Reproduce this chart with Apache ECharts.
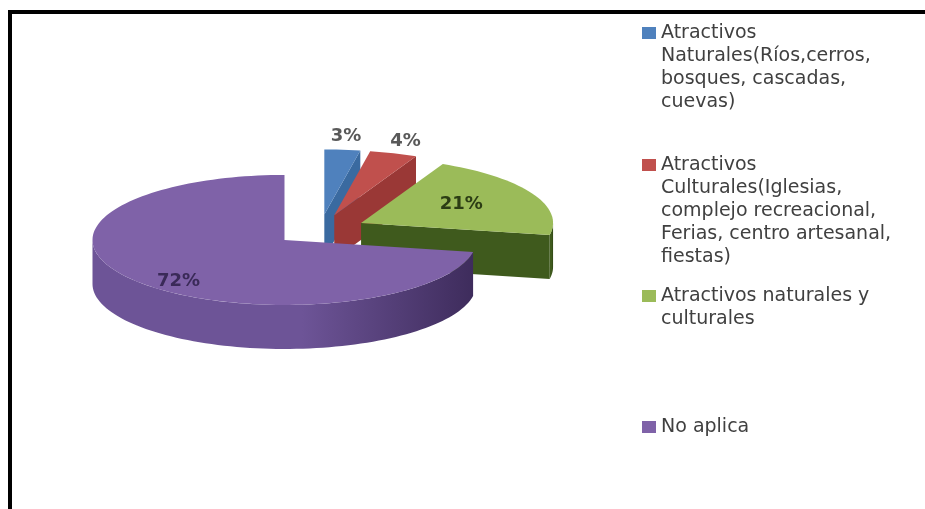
<!DOCTYPE html>
<html>
<head>
<meta charset="utf-8">
<script src="https://cdn.jsdelivr.net/npm/echarts@6/dist/echarts.min.js"></script>
<style>
html, body { margin: 0; padding: 0; background: #fff; }
#chart { position: absolute; left: 0; top: 0; width: 925px; height: 509px; }
#frame { position: absolute; left: 8px; top: 10px; width: 917px; height: 499px;
  border-top: 4px solid #000; border-left: 4px solid #000; box-sizing: border-box; }
</style>
</head>
<body>
<div id="chart"></div>
<div id="frame"></div>
<script>
let categories = [
  "Atractivos Naturales(Ríos,cerros, bosques, cascadas, cuevas)",
  "Atractivos Culturales(Iglesias, complejo recreacional, Ferias, centro artesanal, fiestas)",
  "Atractivos naturales y culturales",
  "No aplica"
];
let legendLabels = [
  "Atractivos\nNaturales(Ríos,cerros,\nbosques, cascadas,\ncuevas)",
  "Atractivos\nCulturales(Iglesias,\ncomplejo recreacional,\nFerias, centro artesanal,\nfiestas)",
  "Atractivos naturales y\nculturales",
  "No aplica"
];
let percentValues = [3, 4, 21, 72];

let topColors = ['#4f81bd', '#c0504d', '#9bbb59', '#7f62a8'];
let sideColors = ['#3a6aa0', '#9a3836', '#3f5a1d', '#6d5497'];
let sideDark = ['#2b5283', '#7c2826', '#2f4614', '#3e2c5c'];
let labelColors = ['#595959', '#595959', '#2c3d14', '#3a2a58'];

// 3d pie geometry (ellipse seen from above, 12 o'clock start, clockwise)
let cx = 320, cy = 230, rx = 192, ry = 65, depth = 44, explode = 0.24;
let total = percentValues.reduce((s, v) => s + v, 0);

function pt(x0, y0, ang, r) {
  let t = ang * Math.PI / 180;
  return [x0 + r * rx * Math.sin(t), y0 - r * ry * Math.cos(t)];
}
function arc(x0, y0, a1, a2, dy) {
  let pts = [];
  let n = Math.max(2, Math.ceil((a2 - a1) / 2));
  for (let i = 0; i <= n; i++) {
    let p = pt(x0, y0, a1 + (a2 - a1) * i / n, 1);
    pts.push([p[0], p[1] + dy]);
  }
  return pts;
}

function makeRender(idx) {
  return function (params, api) {
    let start = 0;
    for (let j = 0; j < idx; j++) start += percentValues[j];
    let v = api.value(0);
    let a1 = start / total * 360, a2 = (start + v) / total * 360, mid = (a1 + a2) / 2;
    let t = mid * Math.PI / 180;
    let vx = cx + explode * rx * Math.sin(t), vy = cy - explode * ry * Math.cos(t);
    let base = Math.round((1 - Math.cos(t)) * 100);
    let children = [];
    // walls along the radii, only those facing us
    [[a1, a1 - 90], [a2, a2 + 90]].forEach(function (e) {
      if (Math.cos(e[1] * Math.PI / 180) < -0.01) {
        let p = pt(vx, vy, e[0], 1);
        children.push({
          type: 'polygon', z2: base,
          shape: { points: [[vx, vy], p, [p[0], p[1] + depth], [vx, vy + depth]] },
          style: { fill: sideColors[idx] }
        });
      }
    });
    // outer curved wall, front half
    let f1 = Math.max(a1, 90), f2 = Math.min(a2, 270);
    if (f2 > f1) {
      let up = arc(vx, vy, f1, f2, 0), down = arc(vx, vy, f1, f2, depth).reverse();
      children.push({
        type: 'polygon', z2: base + 1,
        shape: { points: up.concat(down) },
        style: {
          fill: {
            type: 'linear', x: 1, y: 0, x2: 0, y2: 0,
            colorStops: [
              { offset: 0, color: sideDark[idx] },
              { offset: 0.45, color: sideColors[idx] },
              { offset: 1, color: sideColors[idx] }
            ]
          }
        }
      });
    }
    // top face
    children.push({
      type: 'polygon', z2: base + 2,
      shape: { points: [[vx, vy]].concat(arc(vx, vy, a1, a2, 0)) },
      style: { fill: topColors[idx] }
    });
    // percent label
    let pct = Math.round(v / total * 100);
    let outside = pct < 5;
    let c = Math.cos(t);
    let lp = pt(vx, vy, mid, outside ? 1.2 : 0.64 - 0.12 * c);
    children.push({
      type: 'text', z2: base + 3,
      x: lp[0], y: lp[1] + (outside ? 0 : 4 - 12 * c),
      style: {
        text: pct + '%', font: 'bold 18px "DejaVu Sans"',
        fill: labelColors[idx], align: 'center', verticalAlign: 'middle'
      }
    });
    return { type: 'group', children: children };
  };
}

let legendY = [33, 165, 296, 427];
let lineH = 23;

let myChart = echarts.init(document.getElementById('chart'));
let option = {
  animation: false,
  backgroundColor: '#fff',
  legend: categories.map(function (name, i) {
    let lines = legendLabels[i].split('\n').length;
    return {
      data: [name],
      left: 637,
      top: legendY[i] - 5 - (2 * lines - 1) * lineH / 2,
      icon: 'rect',
      itemWidth: 14,
      itemHeight: 12,
      selectedMode: false,
      // blank lines on top keep the first text line level with the square
      formatter: function (n) {
        let k = categories.indexOf(n);
        let txt = legendLabels[k];
        return '\n'.repeat(txt.split('\n').length - 1) + txt;
      },
      textStyle: { fontFamily: 'DejaVu Sans', fontSize: 19, lineHeight: lineH, color: '#404040' }
    };
  }),
  series: categories.map(function (name, i) {
    return {
      type: 'custom',
      name: name,
      coordinateSystem: 'none',
      silent: true,
      itemStyle: { color: topColors[i] },
      data: [percentValues[i]],
      renderItem: makeRender(i)
    };
  })
};
myChart.setOption(option);
</script>
</body>
</html>
